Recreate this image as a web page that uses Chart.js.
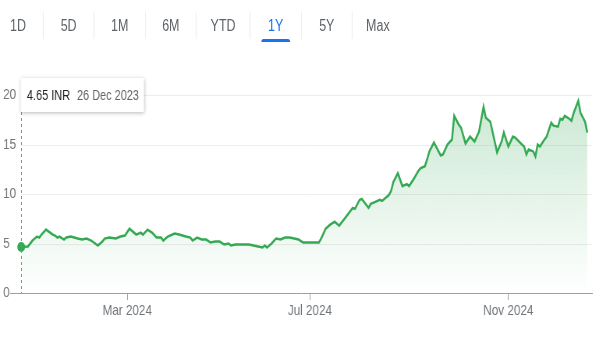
<!DOCTYPE html>
<html>
<head>
<meta charset="utf-8">
<script src="https://cdn.jsdelivr.net/npm/chart.js@4.4.1/dist/chart.umd.min.js"></script>
<style>
  html, body { margin: 0; padding: 0; background: #fff; }
  body { width: 600px; height: 338px; position: relative; overflow: hidden;
         font-family: Arial, "Liberation Sans", sans-serif; }
  /* the reference is a horizontally squeezed screenshot, so draw wide and squeeze */
  #page { position: absolute; left: 0; top: 0; width: 769px; height: 338px;
          transform: scaleX(0.78); transform-origin: 0 0; }
  #ranges { position: absolute; left: -9px; top: 12px; height: 27px; display: flex; }
  #ranges div { height: 27px; line-height: 27px; text-align: center; font-size: 16px;
                color: #5f6368; border-right: 1px solid #ebebeb; box-sizing: border-box; position: relative; }
  #ranges div:last-child { border-right: none; }
  #ranges div.on { color: #1a73e8; }
  #ranges div.on::after { content: ""; position: absolute; left: 14px; right: 14px; top: 27px;
                          height: 3px; background: #1a73e8; border-radius: 3px 3px 0 0; }
  #wrap { position: absolute; left: 0; top: 0; width: 769px; height: 338px; }
</style>
</head>
<body>
<div id="page">
  <div id="wrap"><canvas id="price-chart"></canvas></div>
  <div id="ranges"></div>
</div>
<script>
// range buttons
var ranges = ['1D', '5D', '1M', '6M', 'YTD', '1Y', '5Y', 'Max'];
var rangeWidths = [65, 65, 66, 65, 69, 66, 65, 65];
var activeRange = '1Y';

// trading session number (0 = 26 Dec 2023) and closing price in INR
var session = [
  0, 3, 5, 7, 8, 9, 11, 14, 15, 16,
  17, 19, 20, 22, 25, 27, 29, 31, 34, 36,
  37, 39, 42, 44, 46, 48, 50, 51, 53, 54,
  56, 58, 60, 62, 63, 65, 68, 70, 73, 75,
  76, 78, 80, 82, 84, 86, 88, 90, 92, 93,
  95, 98, 101, 103, 105, 107, 108, 109, 111, 113,
  115, 117, 119, 121, 123, 125, 128, 132, 133, 135,
  137, 139, 141, 144, 147, 148, 150, 151, 154, 155,
  157, 159, 160, 163, 164, 165, 167, 169, 171, 172,
  174, 176, 177, 179, 180, 181, 183, 186, 187, 189,
  191, 192, 194, 195, 197, 199, 201, 203, 205, 206,
  208, 211, 213, 214, 216, 218, 219, 222, 223, 224,
  225, 227, 228, 229, 230, 232, 233, 235, 236, 238,
  239, 240, 241, 243, 244, 245, 247, 248, 250, 251
];
var close = [
  4.65, 4.7, 5.3, 5.7, 5.6, 5.9, 6.4, 5.9, 5.8, 5.6,
  5.7, 5.4, 5.6, 5.7, 5.5, 5.4, 5.5, 5.3, 4.8, 5.2,
  5.5, 5.6, 5.5, 5.7, 5.8, 6.5, 6.1, 5.9, 6.1, 5.9,
  6.4, 6.1, 5.6, 5.6, 5.3, 5.7, 6.0, 5.9, 5.7, 5.6,
  5.3, 5.6, 5.4, 5.4, 5.1, 5.2, 5.2, 4.9, 5.0, 4.8,
  4.9, 4.9, 4.9, 4.8, 4.7, 4.6, 4.8, 4.6, 5.0, 5.5,
  5.4, 5.6, 5.6, 5.5, 5.4, 5.1, 5.1, 5.1, 5.5, 6.5,
  6.9, 7.2, 6.8, 7.7, 8.6, 8.5, 9.4, 9.5, 8.6, 9.0,
  9.2, 9.4, 9.3, 9.9, 10.3, 11.2, 12.1, 10.8, 11.0, 10.8,
  11.5, 12.3, 12.6, 12.8, 13.5, 14.3, 15.2, 13.9, 14.0, 15.0,
  15.5, 17.9, 17.0, 16.7, 15.1, 15.8, 15.3, 16.3, 18.8, 17.7,
  17.3, 14.2, 15.3, 16.2, 14.8, 15.8, 15.7, 15.0, 14.8, 14.0,
  14.5, 14.3, 13.8, 15.0, 14.8, 15.5, 15.8, 17.2, 16.9, 16.8,
  17.6, 17.5, 17.9, 17.6, 17.4, 18.2, 19.4, 18.2, 17.3, 16.2
];
var firstDate = '26 Dec 2023';
var currency = 'INR';

// month ticks on the x axis
var tickSessions = [47, 128, 216];
var tickLabels = ['Mar 2024', 'Jul 2024', 'Nov 2024'];
var yTicks = [0, 5, 10, 15, 20];

var green = '#34a853';
var font = 'Arial, "Liberation Sans", sans-serif';

// build the range bar
var bar = document.getElementById('ranges');
ranges.forEach(function (r, i) {
  var d = document.createElement('div');
  d.textContent = r;
  d.style.width = rangeWidths[i] + 'px';
  if (r === activeRange) d.className = 'on';
  bar.appendChild(d);
});

// faint horizontal grid starting at the first session, dashed marker, hover box
var extras = {
  id: 'extras',
  beforeDatasetsDraw: function (chart) {
    var c = chart.ctx, x = chart.scales.x, y = chart.scales.y;
    var x0 = x.getPixelForValue(session[0]);
    c.save();
    c.strokeStyle = '#ededed';
    c.lineWidth = 1;
    yTicks.slice(1).forEach(function (v) {
      var py = Math.round(y.getPixelForValue(v)) + 0.5;
      c.beginPath(); c.moveTo(x0, py); c.lineTo(chart.chartArea.right, py); c.stroke();
    });
    c.restore();
  },
  afterDraw: function (chart) {
    var c = chart.ctx, x = chart.scales.x, y = chart.scales.y;
    var px = Math.round(x.getPixelForValue(session[0])) + 0.5;
    c.save();
    c.strokeStyle = '#80868b';
    c.setLineDash([3, 3]);
    c.lineWidth = 1;
    c.beginPath(); c.moveTo(px, 112); c.lineTo(px, y.getPixelForValue(0)); c.stroke();
    c.setLineDash([]);

    // hover box
    var bx = px - 1, by = 78, bw = 158, bh = 34;
    c.shadowColor = 'rgba(0,0,0,0.28)';
    c.shadowBlur = 4;
    c.shadowOffsetY = 1;
    c.fillStyle = '#fff';
    c.fillRect(bx, by, bw, bh);
    c.shadowColor = 'transparent';
    c.textBaseline = 'middle';
    c.font = '14px ' + font;
    c.fillStyle = '#202124';
    var t1 = close[0].toFixed(2) + ' ' + currency;
    c.fillText(t1, bx + 8, by + bh / 2 + 1);
    c.fillStyle = '#5f6368';
    c.fillText(firstDate, bx + 8 + c.measureText(t1).width + 9, by + bh / 2 + 1);
    c.restore();
  }
};

var ctx = document.getElementById('price-chart').getContext('2d');
var chart = new Chart(ctx, {
  type: 'line',
  data: {
    datasets: [{
      data: session.map(function (s, i) { return { x: s, y: close[i] }; }),
      borderColor: green,
      borderWidth: 2.5,
      tension: 0,
      fill: 'origin',
      backgroundColor: function (context) {
        var area = context.chart.chartArea;
        if (!area) return 'rgba(52,168,83,0.1)';
        var g = context.chart.ctx.createLinearGradient(0, area.top, 0, area.bottom);
        g.addColorStop(0, 'rgba(52,168,83,0.26)');
        g.addColorStop(1, 'rgba(52,168,83,0)');
        return g;
      },
      pointRadius: session.map(function (s, i) { return i === 0 ? 5 : 0; }),
      pointBackgroundColor: green,
      pointBorderWidth: 0
    }]
  },
  options: {
    responsive: true,
    maintainAspectRatio: false,
    animation: false,
    events: [],
    layout: { padding: { left: 4, right: 10, top: 95, bottom: 16 } },
    plugins: { legend: { display: false }, tooltip: { enabled: false } },
    scales: {
      x: {
        type: 'linear',
        min: -4.9,
        max: 253.1,
        afterBuildTicks: function (scale) {
          scale.ticks = tickSessions.map(function (v) { return { value: v }; });
        },
        ticks: {
          autoSkip: false,
          maxRotation: 0,
          padding: 2,
          color: '#70757a',
          font: { family: font, size: 15 },
          callback: function (v) {
            var k = tickSessions.indexOf(v);
            return k >= 0 ? tickLabels[k] : '';
          }
        },
        grid: { drawOnChartArea: false, drawTicks: true, tickLength: 7, color: '#9aa0a6' },
        border: { display: true, color: '#9aa0a6', width: 1 }
      },
      y: {
        min: 0,
        max: 20,
        afterBuildTicks: function (scale) {
          scale.ticks = yTicks.map(function (v) { return { value: v }; });
        },
        afterFit: function (scale) { scale.width = 9; },
        ticks: {
          mirror: true,
          padding: -9,
          color: '#70757a',
          font: { family: font, size: 15 }
        },
        grid: { display: false },
        border: { display: false }
      }
    }
  },
  plugins: [extras]
});
</script>
</body>
</html>
